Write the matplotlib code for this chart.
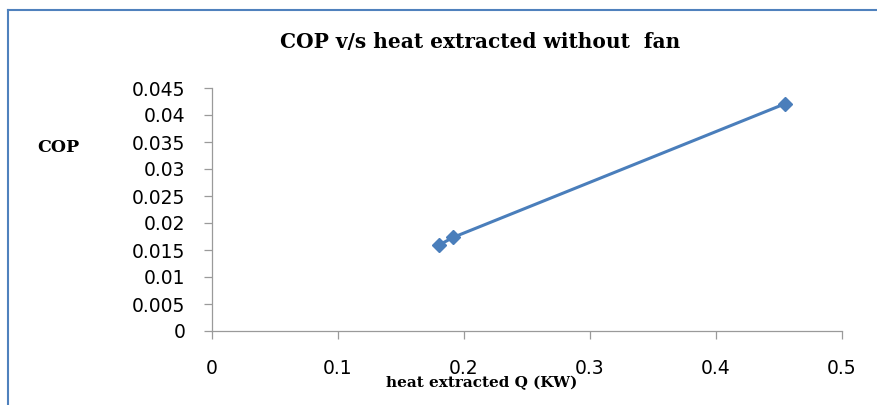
import matplotlib
matplotlib.use('Agg')
import matplotlib.pyplot as plt
from matplotlib.lines import Line2D

heat_q = [0.18, 0.1915, 0.455]
cop = [0.0159, 0.01735, 0.0421]
xticks = [0, 0.1, 0.2, 0.3, 0.4, 0.5]
yticks = [0, 0.005, 0.01, 0.015, 0.02, 0.025, 0.03, 0.035, 0.04, 0.045]
ytick_labels = ['0', '0.005', '0.01', '0.015', '0.02', '0.025', '0.03', '0.035', '0.04', '0.045']
xtick_labels = ['0', '0.1', '0.2', '0.3', '0.4', '0.5']

W, H = 877, 405
fig = plt.figure(figsize=(W / 100, H / 100), dpi=100)
ax = fig.add_axes([212 / W, 1 - 331 / H, 630 / W, 243 / H])

ax.plot(heat_q, cop, color='#4a7ebb', linewidth=2.2, marker='D', markersize=7,
        markerfacecolor='#4a7ebb', markeredgecolor='#4a7ebb')

ax.set_xlim(0, 0.5)
ax.set_ylim(0, 0.045)
ax.set_xticks(xticks)
ax.set_xticklabels(xtick_labels)
ax.set_yticks(yticks)
ax.set_yticklabels(ytick_labels)

for s in ['top', 'right']:
    ax.spines[s].set_visible(False)
for s in ['left', 'bottom']:
    ax.spines[s].set_color('#9a9a9a')
    ax.spines[s].set_linewidth(0.9)

ax.tick_params(axis='both', colors='#9a9a9a', length=5.5, width=0.9, direction='out')
ax.tick_params(axis='y', pad=13.5, labelcolor='black', labelsize=13.5)
ax.tick_params(axis='x', pad=15, labelcolor='black', labelsize=13.5)
for lab in ax.get_xticklabels() + ax.get_yticklabels():
    lab.set_fontfamily('DejaVu Sans')

fig.text(480 / W, 1 - 42 / H, 'COP v/s heat extracted without  fan', ha='center', va='center',
         fontsize=14.5, fontweight='bold', family='DejaVu Serif')
fig.text(58 / W, 1 - 148 / H, 'COP', ha='center', va='center',
         fontsize=12.5, fontweight='bold', family='DejaVu Serif')
fig.text(482 / W, 1 - 383 / H, 'heat extracted Q (KW)', ha='center', va='center',
         fontsize=11, fontweight='bold', family='DejaVu Serif')

# chart border (left and top edges visible)
fig.add_artist(Line2D([8 / W, 8 / W], [0, 1 - 10 / H], color='#4f81bd', linewidth=1.5))
fig.add_artist(Line2D([8 / W, 1], [1 - 10 / H, 1 - 10 / H], color='#4f81bd', linewidth=1.5))

fig.savefig('out.png', dpi=100)
